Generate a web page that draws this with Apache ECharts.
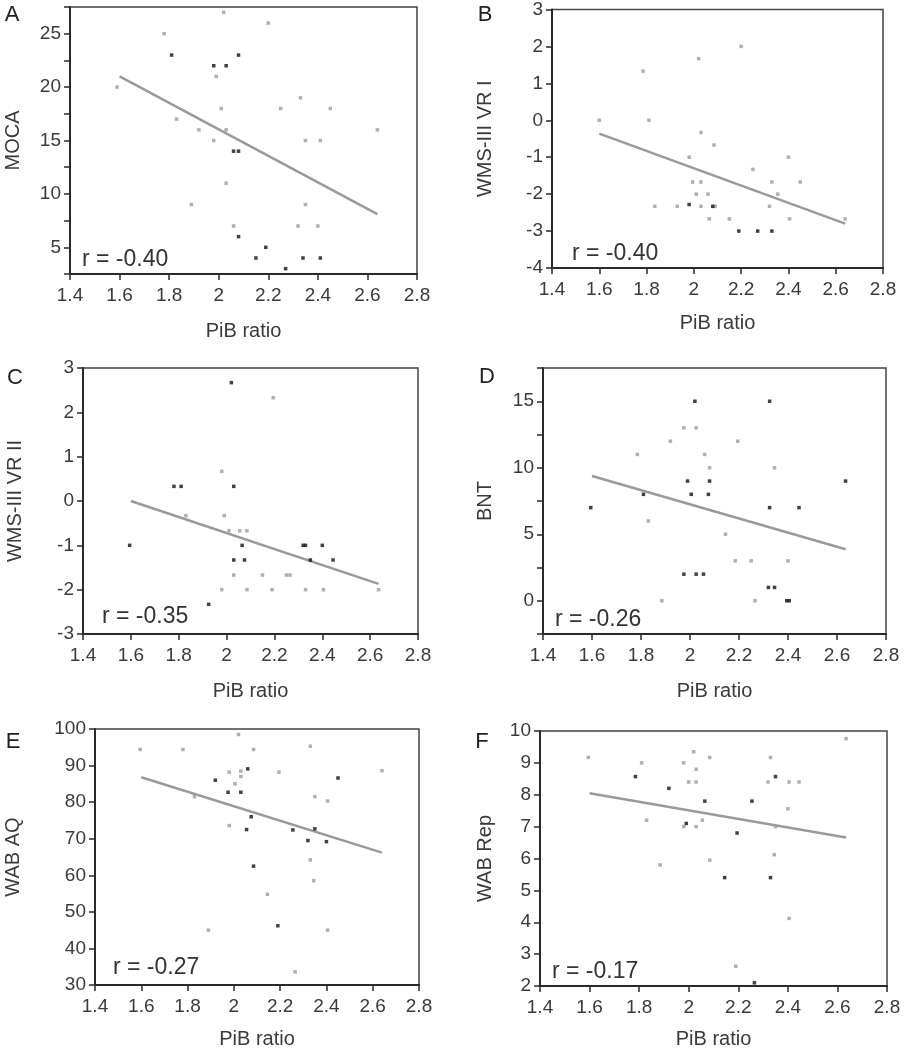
<!DOCTYPE html>
<html><head><meta charset="utf-8">
<script src="https://cdn.jsdelivr.net/npm/echarts@6/dist/echarts.min.js"></script>
<style>html,body{margin:0;padding:0;background:#fff}#c{width:905px;height:1050px}</style>
</head><body><div id="c"></div>
<script>
// ---- Data ----
const xAxisName = 'PiB ratio';
const panelLetters = ['A','B','C','D','E','F'];
const yNames = ['MOCA','WMS-III VR I','WMS-III VR II','BNT','WAB AQ','WAB Rep'];
const rLabels = ['r = -0.40','r = -0.40','r = -0.35','r = -0.26','r = -0.27','r = -0.17'];

const aGrey = [[1.59,20],[1.78,25],[1.83,17],[1.89,9],[1.92,16],[1.98,15],[1.99,21],[2.01,18],[2.02,27],[2.03,16],[2.03,11],[2.06,7],[2.20,26],[2.25,18],[2.33,19],[2.32,7],[2.35,15],[2.35,9],[2.40,7],[2.41,15],[2.45,18],[2.64,16]];
const aDark = [[1.81,23],[1.98,22],[2.03,22],[2.06,14],[2.08,14],[2.08,23],[2.08,6],[2.15,4],[2.19,5],[2.27,3],[2.34,4],[2.41,4]];
const aFit = [[1.6,21.0],[2.64,8.1]];

const bGrey = [[1.6,0],[1.785,1.33],[1.81,0],[1.835,-2.33],[1.93,-2.33],[1.98,-1],[1.995,-1.67],[2.01,-2],[2.02,1.67],[2.03,-0.33],[2.03,-1.67],[2.03,-2.33],[2.06,-2],[2.065,-2.67],[2.085,-0.67],[2.09,-2.33],[2.15,-2.67],[2.2,2],[2.25,-1.33],[2.32,-2.33],[2.33,-1.67],[2.355,-2],[2.40,-1],[2.405,-2.67],[2.45,-1.67],[2.64,-2.67]];
const bDark = [[1.98,-2.28],[2.08,-2.33],[2.19,-3],[2.27,-3],[2.33,-3]];
const bFit = [[1.6,-0.36],[2.64,-2.8]];

const cGrey = [[1.83,-0.33],[1.98,0.67],[1.98,-2],[1.99,-0.33],[2.01,-0.67],[2.03,-1.67],[2.055,-0.67],[2.085,-0.67],[2.085,-2],[2.15,-1.67],[2.19,-2],[2.195,2.33],[2.25,-1.67],[2.265,-1.67],[2.33,-2],[2.405,-2],[2.635,-2]];
const cDark = [[1.595,-1],[1.78,0.33],[1.81,0.33],[1.925,-2.33],[2.02,2.67],[2.03,0.33],[2.03,-1.33],[2.065,-1],[2.075,-1.33],[2.32,-1],[2.33,-1],[2.35,-1.33],[2.40,-1],[2.445,-1.33]];
const cFit = [[1.6,0],[2.635,-1.87]];

const dGrey = [[1.785,11],[1.83,6],[1.885,0],[1.92,12],[1.975,13],[2.025,13],[2.06,11],[2.08,10],[2.145,5],[2.185,3],[2.195,12],[2.25,3],[2.265,0],[2.345,10],[2.40,3]];
const dDark = [[1.595,7],[1.81,8],[1.975,2],[1.99,9],[2.005,8],[2.02,15],[2.025,2],[2.055,2],[2.075,8],[2.08,9],[2.325,15],[2.325,7],[2.32,1],[2.345,1],[2.395,0],[2.405,0],[2.445,7],[2.635,9]];
const dFit = [[1.6,9.38],[2.635,3.87]];

const eGrey = [[1.595,94.4],[1.78,94.4],[1.83,81.5],[1.89,45],[1.98,88.2],[1.98,73.6],[2.005,85],[2.02,98.5],[2.03,88.5],[2.03,87],[2.085,94.4],[2.145,54.8],[2.195,88.2],[2.265,33.6],[2.33,95.3],[2.33,64.2],[2.345,58.5],[2.35,81.5],[2.405,80.3],[2.405,45],[2.64,88.6]];
const eDark = [[1.92,86],[1.975,82.7],[2.03,82.7],[2.055,72.5],[2.06,89.1],[2.075,76],[2.085,62.5],[2.19,46.2],[2.255,72.4],[2.32,69.5],[2.35,72.7],[2.40,69.2],[2.45,86.6]];
const eFit = [[1.6,86.8],[2.64,66.2]];

const fGrey = [[1.595,9.17],[1.81,9],[1.83,7.2],[1.885,5.8],[1.98,9],[1.98,7],[2.0,8.4],[2.02,9.35],[2.03,8.8],[2.03,8.4],[2.03,7],[2.055,7.2],[2.085,9.17],[2.085,5.95],[2.19,2.62],[2.32,8.4],[2.33,9.17],[2.345,6.12],[2.35,7],[2.40,7.56],[2.405,8.4],[2.405,4.12],[2.445,8.4],[2.635,9.76]];
const fDark = [[1.785,8.57],[1.92,8.2],[1.99,7.1],[2.065,7.8],[2.145,5.4],[2.195,6.8],[2.255,7.8],[2.265,2.1],[2.33,5.4],[2.35,8.57]];
const fFit = [[1.6,8.05],[2.635,6.66]];

const xRange = [1.4, 2.8, 0.2];
const yRanges = [[2.5,27.5,2.5,5],[-4,3,1,1],[-3,3,1,1],[-2.5,17.5,2.5,5],[30,100,10,10],[2,10,1,1]];

// ---- Layout / styles ----
const grids = [
  {left:70, top:7, width:347, height:267},
  {left:552, top:7, width:331, height:261},
  {left:83, top:368, width:335, height:266},
  {left:543, top:368, width:343, height:266},
  {left:95, top:729, width:324, height:257},
  {left:540, top:731, width:347, height:256}
];
const yNameGap = [47,57,58,48,72,45];
const xNameGap = [47,45,47,47,44,43];
const letterPos = [[12,15],[485,15],[15,378],[487,377],[13,742],[482,742]];
const rPos = [[82,260],[572,254],[102,617],[555,620],[113,968],[552,972]];

const FONT = '"Liberation Sans", Arial, sans-serif';
const greySets = [aGrey,bGrey,cGrey,dGrey,eGrey,fGrey];
const darkSets = [aDark,bDark,cDark,dDark,eDark,fDark];
const fitSets = [aFit,bFit,cFit,dFit,eFit,fFit];

const axisLine = {show:true, onZero:false, lineStyle:{color:'#2a2a2a', width:2}};
const axisTick = {show:true, inside:false, length:6, lineStyle:{color:'#2a2a2a', width:1.5}};

const option = {
  animation:false,
  backgroundColor:'#fff',
  grid: grids.map(g => Object.assign({show:true, borderColor:'#444', borderWidth:1.5, containLabel:false}, g)),
  xAxis: grids.map((g,i) => ({
    type:'value', gridIndex:i, min:xRange[0], max:xRange[1], interval:xRange[2],
    name:xAxisName, nameLocation:'middle', nameGap:xNameGap[i],
    nameTextStyle:{fontFamily:FONT, fontSize:20, color:'#3a3a3a'},
    axisLine, axisTick,
    axisLabel:{fontFamily:FONT, fontSize:19, color:'#3a3a3a', margin:12, formatter:v=>String(+v.toFixed(1))},
    splitLine:{show:false}
  })),
  yAxis: grids.map((g,i) => ({
    type:'value', gridIndex:i, min:yRanges[i][0], max:yRanges[i][1], interval:yRanges[i][2],
    name:yNames[i], nameLocation:'middle', nameGap:yNameGap[i],
    nameTextStyle:{fontFamily:FONT, fontSize:20, color:'#3a3a3a'},
    axisLine, axisTick,
    axisLabel:{fontFamily:FONT, fontSize:19, color:'#3a3a3a', margin:9,
      formatter:v=>{ const s=yRanges[i][3]; return Math.abs(v/s-Math.round(v/s))<1e-6 ? String(Math.round(v*100)/100) : ''; }},
    splitLine:{show:false}
  })),
  graphic: [].concat(
    panelLetters.map((t,i)=>({type:'text', x:letterPos[i][0], y:letterPos[i][1],
      style:{text:t, font:'22px '+FONT, fill:'#222', align:'center', verticalAlign:'middle'}})),
    rLabels.map((t,i)=>({type:'text', x:rPos[i][0], y:rPos[i][1], z:10,
      style:{text:t, font:'23px '+FONT, fill:'#333', align:'left', verticalAlign:'middle'}}))
  ),
  series: [].concat(
    fitSets.map((d,i)=>({type:'line', xAxisIndex:i, yAxisIndex:i, data:d, symbol:'none',
      lineStyle:{color:'#9a9a9a', width:2.5}, z:2, silent:true})),
    greySets.map((d,i)=>({type:'scatter', xAxisIndex:i, yAxisIndex:i, data:d, symbol:'rect', symbolSize:3.5,
      itemStyle:{color:'#9c9c9c'}, z:3})),
    darkSets.map((d,i)=>({type:'scatter', xAxisIndex:i, yAxisIndex:i, data:d, symbol:'rect', symbolSize:3.5,
      itemStyle:{color:'#111'}, z:4}))
  )
};
const chart = echarts.init(document.getElementById('c'), null, {renderer:'canvas'});
chart.setOption(option);
</script>
</body></html>
